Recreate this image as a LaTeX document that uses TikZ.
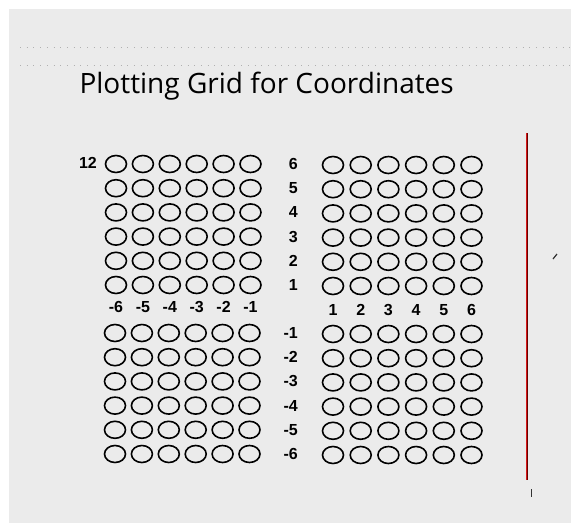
\documentclass[tikz,border=0pt]{standalone}
\usepackage{fontspec}
\setmainfont{Liberation Sans}
\newfontfamily\titlefont{Open Sans}
\usetikzlibrary{shapes.geometric}
\definecolor{paper}{HTML}{EBEBEB}
\definecolor{dotgray}{HTML}{B0B0B0}
\definecolor{rulered}{HTML}{D81818}

\begin{document}
\begin{tikzpicture}[x=1pt, y=-1pt,
  ring/.style={draw, ellipse, line width=1.6pt, minimum width=21pt, minimum height=17pt, inner sep=0pt},
  num/.style={font=\bfseries\fontsize{16}{16}\selectfont, inner sep=0pt},
  dotline/.style={dotgray, line width=0.7pt, dash pattern=on 0.7pt off 6pt}]
\useasboundingbox (0,0) rectangle (571,523);
\fill[paper] (9,9) rectangle (571,523);

% faint ruled lines
\draw[dotline] (20,47) -- (571,47);
\draw[dotline] (20,65) -- (571,65);

\node[anchor=base west, font=\titlefont\fontsize{28}{28}\selectfont] (title) at (76,93) {Plotting Grid for Coordinates};

% the four blocks of rings
\foreach \c in {1,...,6} {
  \foreach \r in {1,...,6} {
    \node[ring] (ul-\c-\r) at ({116+26.9*(\c-1)}, {164+24.2*(\r-1)}) {};
    \node[ring] (ur-\c-\r) at ({333+27.7*(\c-1)}, {165+24.2*(\r-1)}) {};
    \node[ring] (ll-\c-\r) at ({115+26.9*(\c-1)}, {333+24.2*(\r-1)}) {};
    \node[ring] (lr-\c-\r) at ({333+27.7*(\c-1)}, {334+24.2*(\r-1)}) {};
  }
}

% axis numbers
\node[num] (twelve) at (88,163) {12};
\foreach \r in {1,...,6} {
  \pgfmathtruncatemacro{\v}{7-\r}
  \node[num, anchor=east] (yp-\r) at (298, {164+24.2*(\r-1)}) {\v};
  \node[num, anchor=east] (yn-\r) at (298, {333+24.2*(\r-1)}) {-\r};
}
\foreach \c in {1,...,6} {
  \pgfmathtruncatemacro{\v}{7-\c}
  \node[num] (xn-\c) at ({116+26.9*(\c-1)}, 307) {-\v};
  \node[num] (xp-\c) at ({333+27.7*(\c-1)}, 310) {\c};
}

% margin rule and stray marks
\draw[rulered, line width=2.6pt] (527,133) -- (527,480);
\draw[black!60!red, line width=0.8pt] (527,133) -- (527,480);
\draw[black!80, line width=1pt] (531,489) -- (531,497);
\draw[black!80, line width=1.2pt] (553,259) -- (557,254);
\end{tikzpicture}
\end{document}
